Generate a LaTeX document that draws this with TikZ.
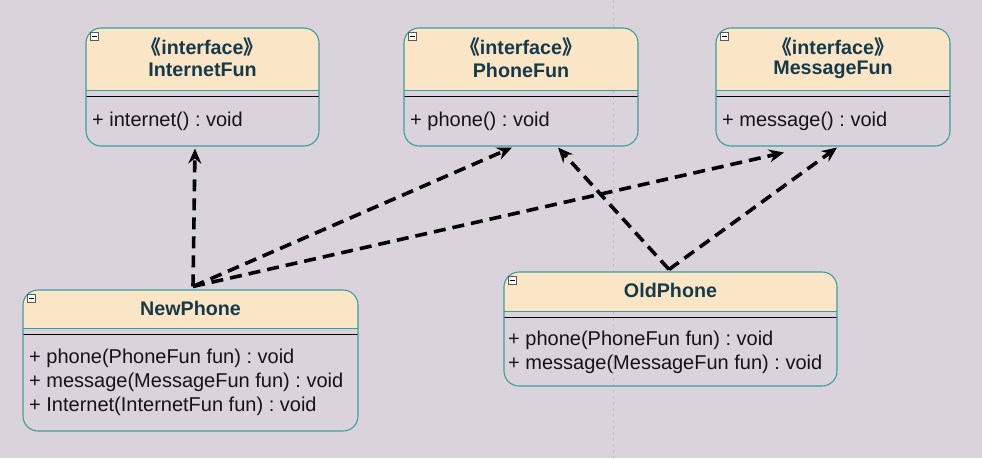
\documentclass[tikz,border=0pt]{standalone}
\usepackage{fontspec}
\setmainfont{Liberation Sans}
\newfontfamily\cjk{Noto Sans CJK SC}
\usetikzlibrary{arrows.meta,calc}
\frenchspacing
\definecolor{bgc}{RGB}{219,211,219}
\definecolor{hdr}{RGB}{251,229,199}
\definecolor{edgec}{RGB}{58,158,158}
\definecolor{ttl}{RGB}{22,58,74}
\definecolor{mtxt}{RGB}{20,20,20}
\definecolor{gridc}{RGB}{196,186,196}
\tikzset{
  classbox/.style={draw=edgec, line width=1.1pt, rounded corners=15pt, inner sep=0pt, fill=none},
  ttltext/.style={text=ttl, font=\fontsize{19.7}{23}\selectfont\bfseries, inner sep=0pt},
  mtext/.style={text=mtxt, font=\fontsize{20}{23}\selectfont, inner sep=0pt, anchor=west},
  dep/.style={line width=3.6pt, dash pattern=on 12pt off 7pt, -{Stealth[length=15pt,width=13pt,inset=5pt]}},
}
% #1 name, #2 x1, #3 y1, #4 x2, #5 y2, #6 header bottom, #7 separator
\newcommand\umlclassbox[7]{%
  \begin{scope}
    \clip[rounded corners=15pt] (#2,#3) rectangle (#4,#5);
    \fill[hdr] (#2,#3) rectangle (#4,#6);
  \end{scope}
  \draw[edgec, line width=0.8pt] (#2,#6) -- (#4,#6);
  \draw[black, line width=1pt] (#2,#7) -- (#4,#7);
  \node[classbox, minimum width={#4pt-#2pt}, minimum height={#5pt-#3pt}] (#1) at ($(#2,#3)!0.5!(#4,#5)$) {};
  \draw[gray!70!black, fill=white, line width=0.5pt] (#2+4,#3+4) rectangle (#2+12,#3+12);
  \draw[black, line width=0.8pt] (#2+5.5,#3+8) -- (#2+10.5,#3+8);
}
\begin{document}
\begin{tikzpicture}[x=1pt,y=-1pt]
\fill[bgc] (0,0) rectangle (982,458);
\useasboundingbox (0,0) rectangle (982,458);
\draw[gridc, dashed, line width=0.6pt] (613,0) -- (613,458);

% interfaces
\umlclassbox{ifun}{86}{28}{319}{146}{90}{96}
\node[ttltext] (ifunst) at (202.5,47) {{\cjk《}interface{\cjk》}};
\node[ttltext] (ifunnm) at (202.5,70) {InternetFun};
\node[mtext] (ifunm1) at (92,121) {+ internet() : void};

\umlclassbox{pfun}{404}{28}{638}{146}{90}{96}
\node[ttltext] (pfunst) at (521,47) {{\cjk《}interface{\cjk》}};
\node[ttltext] (pfunnm) at (521,70) {PhoneFun};
\node[mtext] (pfunm1) at (410,121) {+ phone() : void};

\umlclassbox{mfun}{716}{28}{950}{146}{90}{96}
\node[ttltext] (mfunst) at (833,47) {{\cjk《}interface{\cjk》}};
\node[ttltext] (mfunnm) at (833,70) {MessageFun};
\node[mtext] (mfunm1) at (722,121) {+ message() : void};

% classes
\umlclassbox{newp}{23}{290}{358}{431}{328}{334}
\node[ttltext] (newpnm) at (190.5,308) {NewPhone};
\node[mtext] (newpm1) at (29,358) {+ phone(PhoneFun fun) : void};
\node[mtext] (newpm2) at (29,382) {+ message(MessageFun fun) : void};
\node[mtext] (newpm3) at (29,406) {+ Internet(InternetFun fun) : void};

\umlclassbox{oldp}{504}{272}{837}{386}{311}{317}
\node[ttltext] (oldpnm) at (670.5,290) {OldPhone};
\node[mtext] (oldpm1) at (508,340) {+ phone(PhoneFun fun) : void};
\node[mtext] (oldpm2) at (508,364) {+ message(MessageFun fun) : void};

% dependencies
\draw[dep] ([xshift=2.5pt,yshift=3pt]newp.north) -- ([xshift=-7.5pt,yshift=-2pt]ifun.south);
\draw[dep] ([xshift=2.5pt,yshift=3pt]newp.north) -- ([xshift=-9pt,yshift=-1pt]pfun.south);
\draw[dep] ([xshift=2.5pt,yshift=3pt]newp.north) -- ([xshift=-49pt,yshift=-6pt]mfun.south);
\draw[dep] ([xshift=-1.5pt,yshift=2pt]oldp.north) -- ([xshift=37pt,yshift=-1pt]pfun.south);
\draw[dep] ([xshift=-1.5pt,yshift=2pt]oldp.north) -- ([xshift=4pt,yshift=-1pt]mfun.south);
\end{tikzpicture}
\end{document}
